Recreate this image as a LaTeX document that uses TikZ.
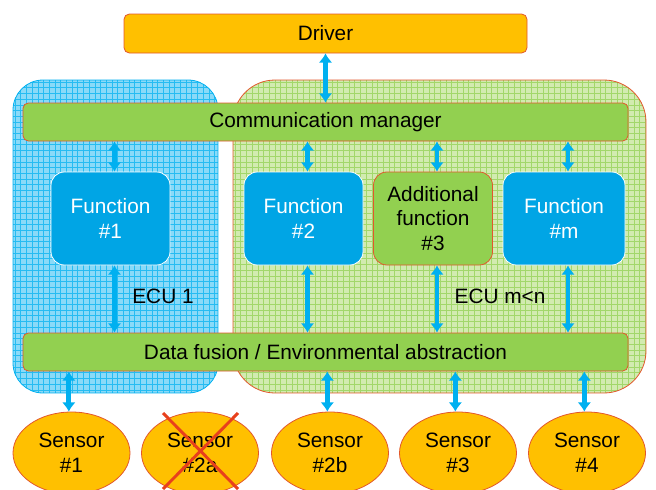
\documentclass[tikz,border=0pt]{standalone}
\usepackage{fontspec}
\setmainfont{Liberation Sans}
\usetikzlibrary{shapes.geometric,arrows.meta}

\definecolor{ecublue}{HTML}{00B0F0}
\definecolor{ecubluebg}{HTML}{8ADAF8}
\definecolor{ecugreen}{HTML}{92D050}
\definecolor{ecugreenbg}{HTML}{D2EBB0}
\definecolor{fnblue}{HTML}{00A5E5}
\definecolor{amber}{HTML}{FFC000}
\definecolor{redline}{HTML}{E2572C}
\definecolor{crossred}{HTML}{E8401C}

\tikzset{
	box/.style={draw=redline,line width=0.6pt,rounded corners=4pt,inner sep=0pt},
	layer/.style={box,fill=ecugreen,minimum width=453.75pt,minimum height=28.5pt},
	function/.style={draw=white,line width=0.6pt,fill=fnblue,text=white,rounded corners=10pt,minimum width=89.25pt,minimum height=69.75pt,align=center,inner sep=0pt},
	addfunction/.style={function,draw=redline,fill=ecugreen,text=black},
	sensor/.style={ellipse,draw=redline,line width=0.6pt,fill=amber,minimum width=87.75pt,minimum height=61.5pt,align=center,inner sep=0pt},
	link/.style={ecublue,line width=3.6pt,{Latex[length=7pt,width=10.5pt]}-{Latex[length=7pt,width=10.5pt]}},
	cross/.style={crossred,line width=2.2pt}
}

\begin{document}
\begin{tikzpicture}[x=0.75pt,y=-0.75pt,font=\fontsize{15.6}{18.7}\selectfont]
	\useasboundingbox (0,0) rectangle (656,489);
	\begin{scope}
		\path[clip,rounded corners=22.5pt] (13,80) rectangle (218,393);
		\fill[ecubluebg] (13,80) rectangle (218,393);
		\foreach \gx in {15,20.7,...,218} \draw[ecublue!85,line width=0.4pt] (\gx,80) -- (\gx,393);
		\foreach \gy in {82,87.7,...,393} \draw[ecublue!85,line width=0.4pt] (13,\gy) -- (218,\gy);
	\end{scope}
	\draw[ecublue,line width=0.6pt,rounded corners=22.5pt] (13,80) rectangle (218,393);
	\begin{scope}
		\path[clip,rounded corners=31.5pt] (233,80) rectangle (646,393);
		\fill[ecugreenbg] (233,80) rectangle (646,393);
		\foreach \gx in {235,240.7,...,646} \draw[ecugreen!85,line width=0.4pt] (\gx,80) -- (\gx,393);
		\foreach \gy in {82,87.7,...,393} \draw[ecugreen!85,line width=0.4pt] (233,\gy) -- (646,\gy);
	\end{scope}
	\draw[redline,line width=0.6pt,rounded corners=31.5pt] (233,80) rectangle (646,393);

	\node[box,fill=amber,minimum width=302.25pt,minimum height=29.25pt] (driver) at (325.5,33.5) {Driver};
	\node[layer] (comm) at (325.5,122) {Communication manager};
	\node[layer] (fusion) at (325.5,352) {Data fusion / Environmental abstraction};

	\node[function] (f1) at (110.5,218.5) {Function\\\#1};
	\node[function] (f2) at (303.5,218.5) {Function\\\#2};
	\node[addfunction] (f3) at (433,218.5) {Additional\\function\\\#3};
	\node[function,minimum width=91.5pt] (fm) at (564,218.5) {Function\\\#m};

	\node (ecu1) at (163,296) {ECU 1};
	\node (ecum) at (500,296) {ECU m<n};

	\node[sensor] (s1) at (71.5,453) {Sensor\\\#1};
	\node[sensor] (s2a) at (200,453) {Sensor\\\#2a};
	\node[sensor] (s2b) at (330,453) {Sensor\\\#2b};
	\node[sensor] (s3) at (458,453) {Sensor\\\#3};
	\node[sensor] (s4) at (587,453) {Sensor\\\#4};
	\draw[cross] ([shift={(-37,-40)}]s2a.center) -- ([shift={(38,36)}]s2a.center);
	\draw[cross] ([shift={(38,-40)}]s2a.center) -- ([shift={(-37,36)}]s2a.center);

	\draw[link] (driver) -- (comm);
	\foreach \f in {f1,f2,f3,fm} {
		\draw[link] ([xshift=3]\f.north) -- ([xshift=3]\f.north |- comm.south);
		\draw[link] ([xshift=3]\f.south) -- ([xshift=3]\f.south |- fusion.north);
	}
	\foreach \s in {s1,s2b,s3,s4}
		\draw[link] ([xshift=-2]\s.north) -- ([xshift=-2]\s.north |- fusion.south);
\end{tikzpicture}
\end{document}
